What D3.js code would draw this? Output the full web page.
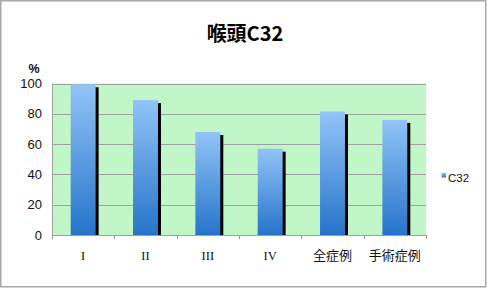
<!DOCTYPE html>
<html><head><meta charset="utf-8">
<script src="https://cdn.jsdelivr.net/npm/d3@7"></script>
<style>body{margin:0;background:#fff}svg{display:block}</style>
</head><body>
<script>
const categories = ["I", "II", "III", "IV", "全症例", "手術症例"];
const values = [99.5, 89, 68, 57, 81.5, 76];
const yTicks = [0, 20, 40, 60, 80, 100];
const seriesName = "C32";
const title = "喉頭C32";

const W = 487, H = 288;
const svg = d3.select("body").append("svg").attr("width", W).attr("height", H);

// border
svg.append("rect").attr("x", 0.75).attr("y", 0.75).attr("width", 485).attr("height", 286)
  .attr("fill", "#fff").attr("stroke", "#a8a8a8").attr("stroke-width", 1.5);

const m = {left: 52, right: 426, top: 83.5, bottom: 235};
const x = d3.scaleBand().domain(categories).range([m.left, m.right]).paddingInner(0).paddingOuter(0);
const y = d3.scaleLinear().domain([0, 100]).range([m.bottom, m.top]);

const defs = svg.append("defs");
const g = defs.append("linearGradient").attr("id", "bg").attr("x1", 0).attr("y1", 0).attr("x2", 0).attr("y2", 1);
g.append("stop").attr("offset", "0%").attr("stop-color", "#92c4f7");
g.append("stop").attr("offset", "100%").attr("stop-color", "#2674ca");

// plot background
svg.append("rect").attr("x", m.left).attr("y", m.top).attr("width", m.right - m.left).attr("height", m.bottom - m.top)
  .attr("fill", "#c0f6c8");

// gridlines
svg.append("g").selectAll("line").data(yTicks).join("line")
  .attr("x1", m.left).attr("x2", m.right)
  .attr("y1", d => Math.round(y(d)) + 0.5).attr("y2", d => Math.round(y(d)) + 0.5)
  .attr("stroke", "#a0a0a0").attr("stroke-width", 1.2);

// y axis
const yAxis = svg.append("g").attr("transform", `translate(${m.left},0)`)
  .call(d3.axisLeft(y).tickValues(yTicks).tickSize(0).tickPadding(10));
yAxis.select(".domain").remove();
yAxis.selectAll("text").attr("font-family", "Liberation Sans, Arial, sans-serif").attr("font-size", 13).attr("fill", "#111");
svg.append("line").attr("x1", m.left + 0.5).attr("x2", m.left + 0.5).attr("y1", m.top).attr("y2", m.bottom)
  .attr("stroke", "#a0a0a0");

// x axis ticks
const bounds = categories.map(c => x(c)).concat([m.right]);
svg.append("g").selectAll("line").data(bounds).join("line")
  .attr("x1", d => Math.round(d) + 0.5).attr("x2", d => Math.round(d) + 0.5)
  .attr("y1", m.bottom).attr("y2", m.bottom + 4)
  .attr("stroke", "#999");
svg.append("line").attr("x1", m.left).attr("x2", m.right).attr("y1", m.bottom + 0.5).attr("y2", m.bottom + 0.5)
  .attr("stroke", "#a0a0a0");

// x labels
const xAxis = svg.append("g").attr("transform", `translate(0,${m.bottom})`)
  .call(d3.axisBottom(x).tickSize(0).tickPadding(16));
xAxis.select(".domain").remove();
xAxis.selectAll("text")
  .attr("font-family", (d, i) => i < 4 ? "Liberation Serif, serif" : "Noto Sans CJK JP, sans-serif")
  .attr("font-size", (d, i) => i < 4 ? 12.5 : 13)
  .attr("fill", "#111");

// bars
const bw = x.bandwidth() * 0.4;
const bars = svg.append("g");
bars.selectAll("rect.sh").data(values).join("rect").attr("class", "sh")
  .attr("x", (d, i) => x(categories[i]) + (x.bandwidth() - bw) / 2 + 3)
  .attr("y", d => y(d) + 3)
  .attr("width", bw)
  .attr("height", d => m.bottom - y(d) - 3)
  .attr("fill", "#000");
bars.selectAll("rect.b").data(values).join("rect").attr("class", "b")
  .attr("x", (d, i) => x(categories[i]) + (x.bandwidth() - bw) / 2)
  .attr("y", d => y(d))
  .attr("width", bw)
  .attr("height", d => m.bottom - y(d))
  .attr("fill", "url(#bg)");

// % label
svg.append("text").attr("x", 34).attr("y", 73).attr("text-anchor", "middle")
  .attr("font-family", "Liberation Sans, Arial, sans-serif").attr("font-size", 12.5).attr("font-weight", "bold")
  .attr("fill", "#111").text("%");

// title
svg.append("text").attr("x", 245).attr("y", 41).attr("text-anchor", "middle")
  .attr("font-family", "Noto Sans CJK JP, sans-serif").attr("font-size", 20).attr("font-weight", "bold")
  .attr("fill", "#000").text(title);

// legend
svg.append("rect").attr("x", 441.5).attr("y", 173).attr("width", 4.5).attr("height", 4.5).attr("fill", "url(#bg)");
svg.append("text").attr("x", 448).attr("y", 181.5)
  .attr("font-family", "Liberation Sans, Arial, sans-serif").attr("font-size", 11.5).attr("fill", "#111").text(seriesName);
</script>
</body></html>
